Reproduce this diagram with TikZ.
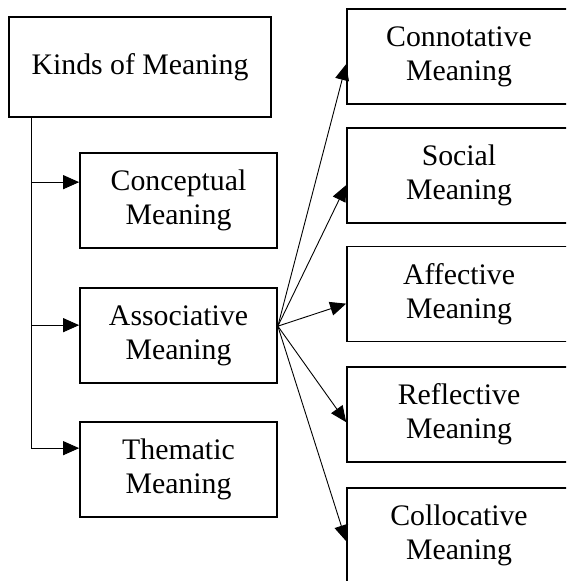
\documentclass[tikz,border=0pt]{standalone}
\usepackage{fontspec}
\setmainfont{Liberation Serif}
\usetikzlibrary{arrows.meta,calc}
\begin{document}
\begin{tikzpicture}[x=1pt,y=-1pt,
  box/.style={draw=black,line width=1.7pt,inner sep=0pt,align=center,
    font=\fontsize{29.8}{34}\selectfont},
  leftbox/.style={box,minimum width=197pt,minimum height=95pt},
  rightbox/.style={box,minimum width=224pt,minimum height=95pt},
  conn/.style={line width=0.9pt,draw=black},
  arr/.style={conn,-{Triangle[length=16pt,width=14pt]}}]
\useasboundingbox (0,0) rectangle (566,581);
\clip (0,0) rectangle (566,581);
\fill[white] (0,0) rectangle (566,581);
% left column
\node[box,minimum width=262pt,minimum height=100pt] (kinds) at (140,67) {Kinds of Meaning};
\node[leftbox] (conc) at (178.5,200.5) {Conceptual\\Meaning};
\node[leftbox] (assoc) at (178.5,335.5) {Associative\\Meaning};
\node[leftbox] (them) at (178.5,469.5) {Thematic\\Meaning};
% right column
\node[rightbox] (conn) at (459,56.5) {Connotative\\Meaning};
\node[rightbox] (soc) at (459,175.5) {Social\\Meaning};
\node[rightbox] (aff) at (459,294) {Affective\\Meaning};
\node[rightbox] (refl) at (459,414.5) {Reflective\\Meaning};
\node[rightbox] (coll) at (459,535.5) {Collocative\\Meaning};
% tree connectors
\coordinate (trunk) at ($(kinds.south west)+(23,0)$);
\coordinate (tc) at ($(conc.north west)+(0,30)$);
\coordinate (ta) at ($(assoc.north west)+(0,38)$);
\coordinate (tt) at ($(them.north west)+(0,27)$);
\draw[arr] (trunk) |- (tt);
\draw[arr] (trunk |- tc) -- (tc);
\draw[arr] (trunk |- ta) -- (ta);
% fan connectors
\coordinate (fan) at ($(assoc.north east)+(0,39)$);
\coordinate (e1) at ($(conn.north west)+(0,56)$);
\coordinate (e2) at ($(soc.north west)+(0,58)$);
\coordinate (e3) at ($(aff.north west)+(0,58)$);
\coordinate (e4) at ($(refl.north west)+(0,56)$);
\coordinate (e5) at ($(coll.north west)+(0,54)$);
\draw[arr] (fan) -- (e1);
\draw[arr] (fan) -- (e2);
\draw[arr] (fan) -- (e3);
\draw[arr] (fan) -- (e4);
\draw[arr] (fan) -- (e5);
\end{tikzpicture}
\end{document}
